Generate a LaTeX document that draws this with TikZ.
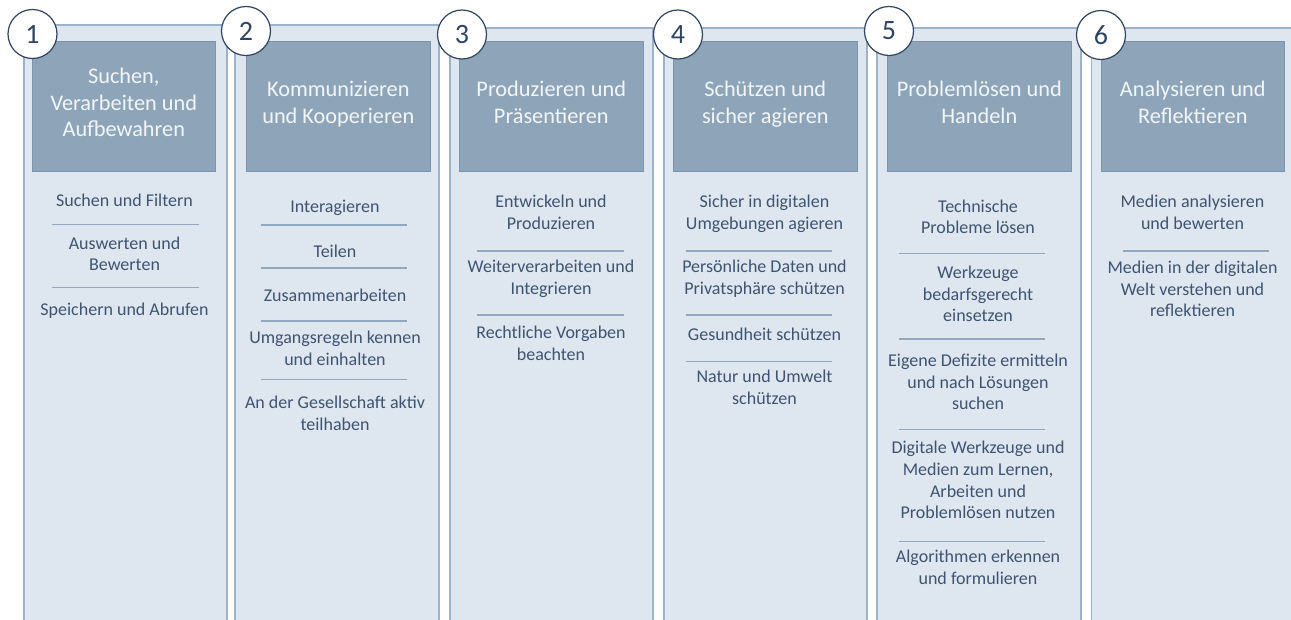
\documentclass[tikz,border=0pt]{standalone}
\usepackage{fontspec}
\setmainfont{Carlito}
\definecolor{panelfill}{RGB}{222,230,239}
\definecolor{panelborder}{RGB}{156,178,201}
\definecolor{headfill}{RGB}{142,165,185}
\definecolor{headborder}{RGB}{125,149,171}
\definecolor{headtext}{RGB}{242,245,248}
\definecolor{bodytext}{RGB}{63,84,112}
\definecolor{sepline}{RGB}{145,167,189}
\definecolor{circborder}{RGB}{46,68,96}
\tikzset{
  panel/.style={draw=panelborder, fill=panelfill, line width=1.6pt, inner sep=0pt, anchor=north west, minimum height=640pt},
  header/.style={draw=headborder, fill=headfill, line width=0.6pt, inner sep=0pt, anchor=north west, minimum height=130pt, align=center, text=headtext, font=\fontsize{22.3}{26.5}\selectfont, execute at begin node=\strut, execute at end node=\strut},
  num/.style={circle, draw=circborder, fill=white, line width=1.2pt, minimum size=49pt, inner sep=0pt, text=circborder, font=\fontsize{28}{32}\selectfont},
  item/.style={align=center, text=bodytext, inner sep=0pt, font=\fontsize{18}{21.7}\selectfont, execute at begin node=\strut, execute at end node=\strut},
  sep/.style={draw=sepline, line width=1.3pt}
}
\begin{document}
\begin{tikzpicture}[x=1pt,y=-1pt]
\useasboundingbox (0,0) rectangle (1291,619);
\clip (0,0) rectangle (1291,619);
\fill[white] (0,0) rectangle (1291,619);
% panels
\node[panel, minimum width=203pt] (p1) at (23,24) {};
\node[panel, minimum width=204pt] (p2) at (234,24) {};
\node[panel, minimum width=203pt] (p3) at (449,27) {};
\node[panel, minimum width=203pt] (p4) at (663,27) {};
\node[panel, minimum width=204pt] (p5) at (876,27) {};
\node[panel, minimum width=203pt] (p6) at (1090.5,27) {};
% headers
\node[header, minimum width=183pt] (h1) at (32,41) {Suchen,\\Verarbeiten und\\Aufbewahren};
\node[header, minimum width=184pt] (h2) at (246,41) {Kommunizieren\\und Kooperieren};
\node[header, minimum width=184pt] (h3) at (459,41) {Produzieren und\\Präsentieren};
\node[header, minimum width=184pt] (h4) at (673,41) {Schützen und\\sicher agieren};
\node[header, minimum width=184pt] (h5) at (887,41) {Problemlösen und\\Handeln};
\node[header, minimum width=183pt] (h6) at (1101,41) {Analysieren und\\Reflektieren};
% number circles
\node[num] (n1) at (32.5,34) {1};
\node[num] (n2) at (246,31) {2};
\node[num] (n3) at (462,34.5) {3};
\node[num] (n4) at (678,34.5) {4};
\node[num] (n5) at (889,31) {5};
\node[num] (n6) at (1101,35) {6};
% column 1
\node[item] (a1) at (124.5,201.7) {Suchen und Filtern};
\node[item] (a2) at (124.5,257) {Auswerten und\\Bewerten};
\node[item] (a3) at (124.5,311) {Speichern und Abrufen};
\draw[sep] (52,224.3) -- (199,224.3);
\draw[sep] (52,287.7) -- (199,287.7);
% column 2
\node[item] (b1) at (335,208) {Interagieren};
\node[item] (b2) at (335,252.7) {Teilen};
\node[item] (b3) at (335,296.7) {Zusammenarbeiten};
\node[item] (b4) at (335,351.7) {Umgangsregeln kennen\\und einhalten};
\node[item] (b5) at (335,416.7) {An der Gesellschaft aktiv\\teilhaben};
\draw[sep] (260.7,225) -- (407.3,225);
\draw[sep] (260.7,268) -- (407.3,268);
\draw[sep] (260.7,321) -- (407.3,321);
\draw[sep] (260.7,379.3) -- (407.3,379.3);
% column 3
\node[item] (c1) at (551,215.8) {Entwickeln und\\Produzieren};
\node[item] (c2) at (551,280.8) {Weiterverarbeiten und\\Integrieren};
\node[item] (c3) at (551,346.8) {Rechtliche Vorgaben\\beachten};
\draw[sep] (477,251) -- (624,251);
\draw[sep] (477,315) -- (624,315);
% column 4
\node[item] (d1) at (764.5,215.8) {Sicher in digitalen\\Umgebungen agieren};
\node[item] (d2) at (764.5,280.8) {Persönliche Daten und\\Privatsphäre schützen};
\node[item] (d3) at (764.5,336) {Gesundheit schützen};
\node[item] (d4) at (764.5,390.8) {Natur und Umwelt\\schützen};
\draw[sep] (685.7,251) -- (832.3,251);
\draw[sep] (685.7,315) -- (832.3,315);
\draw[sep] (685.7,361.7) -- (832.3,361.7);
% column 5
\node[item] (e1) at (978,220) {Technische\\Probleme lösen};
\node[item] (e2) at (978,297) {Werkzeuge\\bedarfsgerecht\\einsetzen};
\node[item] (e3) at (978,385) {Eigene Defizite ermitteln\\und nach Lösungen\\suchen};
\node[item] (e4) at (978,483.2) {Digitale Werkzeuge und\\Medien zum Lernen,\\Arbeiten und\\Problemlösen nutzen};
\node[item] (e5) at (978,570.8) {Algorithmen erkennen\\und formulieren};
\draw[sep] (899,253.3) -- (1045,253.3);
\draw[sep] (899,339) -- (1045,339);
\draw[sep] (899,429.3) -- (1045,429.3);
\draw[sep] (899,541.7) -- (1045,541.7);
% column 6
\node[item] (f1) at (1192.5,215.5) {Medien analysieren\\und bewerten};
\node[item] (f2) at (1192.5,292) {Medien in der digitalen\\Welt verstehen und\\reflektieren};
\draw[sep] (1122.7,251) -- (1269.3,251);
\end{tikzpicture}
\end{document}
